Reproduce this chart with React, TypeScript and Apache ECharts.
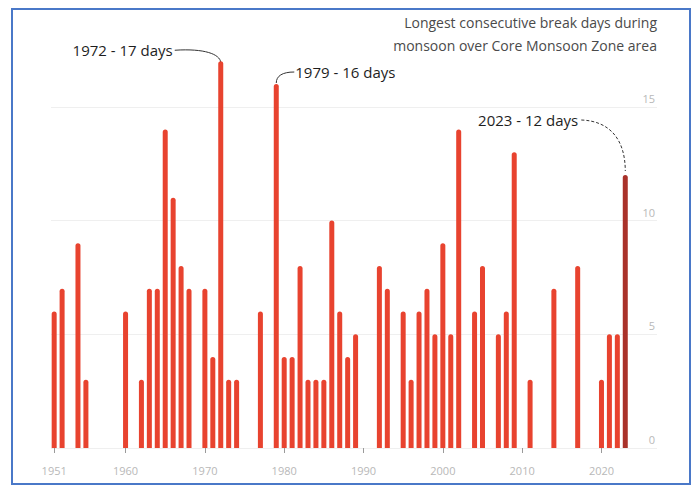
import React, { useEffect, useRef } from "react";
import * as echarts from "echarts";

const barYears = [1951, 1952, 1954, 1955, 1960, 1962, 1963, 1964, 1965, 1966, 1967, 1968, 1970, 1971, 1972, 1973, 1974, 1977, 1979, 1980, 1981, 1982, 1983, 1984, 1985, 1986, 1987, 1988, 1989, 1992, 1993, 1995, 1996, 1997, 1998, 1999, 2000, 2001, 2002, 2004, 2005, 2007, 2008, 2009, 2011, 2014, 2017, 2020, 2021, 2022, 2023];
const breakDays = [6, 7, 9, 3, 6, 3, 7, 7, 14, 11, 8, 7, 7, 4, 17, 3, 3, 6, 16, 4, 4, 8, 3, 3, 3, 10, 6, 4, 5, 8, 7, 6, 3, 6, 7, 5, 9, 5, 14, 6, 8, 5, 6, 13, 3, 7, 8, 3, 5, 5, 12];
const xTickYears = [1951, 1960, 1970, 1980, 1990, 2000, 2010, 2020];
const yTicks = [0, 5, 10, 15];
const highlightYear = 2023;
const noteYears = [1972, 1979, 2023];
const noteDays = [17, 16, 12];
const noteLabels = ["1972 - 17 days", "1979 - 16 days", "2023 - 12 days"];
const titleLines = ["Longest consecutive break days during", "monsoon over Core Monsoon Zone area"];

const FONT = "'Open Sans', Lato, sans-serif";

export default function App() {
  const ref = useRef<HTMLDivElement>(null);
  useEffect(() => {
    if (!ref.current) return;
    const chart = echarts.init(ref.current, null, { renderer: "svg" });
    const option: any = {
      animation: false,
      backgroundColor: "#ffffff",
      grid: { left: 51, right: 37, top: 38.5, bottom: 38 },
      xAxis: {
        type: "value",
        min: 1950.6,
        max: 2027,
        splitLine: { show: false },
        axisLine: { show: false },
        axisTick: { show: true, customValues: xTickYears, length: 5, lineStyle: { color: "#9a9a9a", width: 1 } },
        axisLabel: {
          customValues: xTickYears,
          margin: 17,
          color: "#b8b8b8",
          fontSize: 11,
          fontFamily: FONT,
          formatter: (v: number) => String(v),
        },
      },
      yAxis: {
        type: "value",
        position: "right",
        min: 0,
        max: 18,
        axisLine: { show: false },
        axisTick: { show: false, customValues: yTicks },
        splitLine: { show: true, lineStyle: { color: "#efefef", width: 1 } },
        axisLabel: {
          customValues: yTicks,
          inside: true,
          margin: 2,
          color: "#b8b8b8",
          fontSize: 11,
          fontFamily: FONT,
          verticalAlign: "bottom",
          padding: [0, 0, 3, 0],
        },
      },
      series: [
        {
          type: "bar",
          barWidth: 5,
          data: barYears.map((y, i) => [y, breakDays[i]]),
          itemStyle: {
            borderRadius: [3, 3, 0, 0],
            color: (p: any) => (p.data[0] === highlightYear ? "#a9322a" : "#e8432f"),
          },
        },
      ],
    };
    chart.setOption(option);

    const graphics: any[] = [
      {
        type: "rect",
        shape: { x: 12, y: 9, width: 678, height: 475 },
        style: { fill: "none", stroke: "#4a78c8", lineWidth: 2 },
        silent: true,
      },
      {
        type: "text",
        x: 657,
        y: 11,
        style: {
          text: titleLines.join("\n"),
          align: "right",
          verticalAlign: "top",
          fill: "#4a4a4a",
          font: `14px ${FONT}`,
          lineHeight: 23,
        },
      },
    ];

    const pts = noteYears.map((y, i) => chart.convertToPixel({ xAxisIndex: 0, yAxisIndex: 0 }, [y, noteDays[i]]) as number[]);
    // 1972
    {
      const [px, py] = pts[0];
      graphics.push({
        type: "text", x: px - 48, y: py - 11,
        style: { text: noteLabels[0], align: "right", verticalAlign: "middle", fill: "#1e1e1e", font: `15px ${FONT}` },
      });
      graphics.push({
        type: "bezierCurve",
        shape: { x1: px - 46, y1: py - 11, cpx1: px - 16, cpy1: py - 13, cpx2: px - 1, cpy2: py - 7, x2: px, y2: py + 1 },
        style: { stroke: "#333", lineWidth: 1, fill: "none" },
      });
    }
    // 1979
    {
      const [px, py] = pts[1];
      graphics.push({
        type: "text", x: px + 19, y: py - 12,
        style: { text: noteLabels[1], align: "left", verticalAlign: "middle", fill: "#1e1e1e", font: `15px ${FONT}` },
      });
      graphics.push({
        type: "bezierCurve",
        shape: { x1: px + 18, y1: py - 12, cpx1: px + 6, cpy1: py - 12, cpx2: px, cpy2: py - 8, x2: px, y2: py - 1 },
        style: { stroke: "#333", lineWidth: 1, fill: "none" },
      });
    }
    // 2023
    {
      const [px, py] = pts[2];
      graphics.push({
        type: "text", x: px - 47, y: py - 55,
        style: { text: noteLabels[2], align: "right", verticalAlign: "middle", fill: "#1e1e1e", font: `15px ${FONT}` },
      });
      graphics.push({
        type: "bezierCurve",
        shape: { x1: px - 44, y1: py - 55, cpx1: px - 15, cpy1: py - 54, cpx2: px, cpy2: py - 35, x2: px, y2: py - 4 },
        style: { stroke: "#333", lineWidth: 1, fill: "none", lineDash: [3, 2] },
      });
    }
    chart.setOption({ graphic: graphics });
    return () => chart.dispose();
  }, []);
  return <div ref={ref} style={{ position: "fixed", left: 0, top: 0, width: 694, height: 486 }} />;
}
